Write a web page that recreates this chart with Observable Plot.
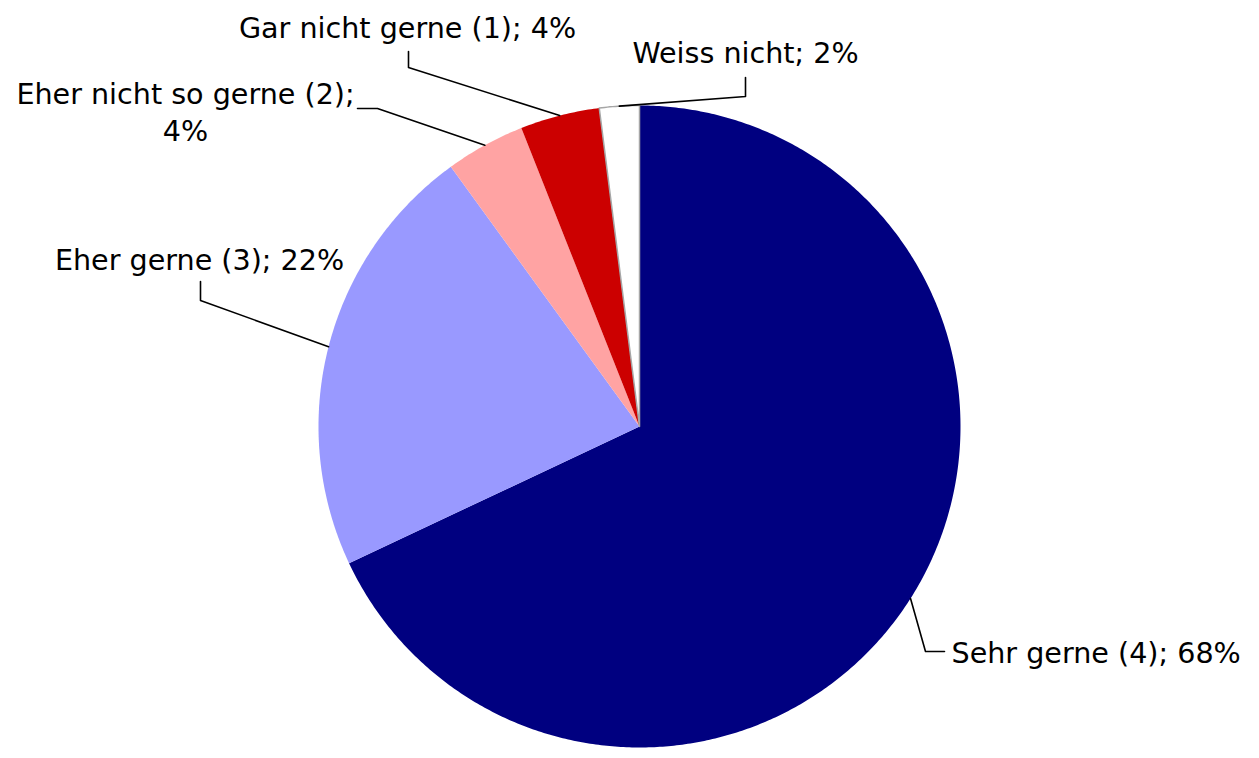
<!DOCTYPE html>
<html><head><meta charset="utf-8">
<script src="https://cdn.jsdelivr.net/npm/d3@7"></script>
<script src="https://cdn.jsdelivr.net/npm/@observablehq/plot@0.6"></script>
<style>body{margin:0;background:#fff;overflow:hidden}</style>
</head><body><div id="chart"></div>
<script>
// ---- data ----
const categories = ["Sehr gerne (4)", "Eher gerne (3)", "Eher nicht so gerne (2)", "Gar nicht gerne (1)", "Weiss nicht"];
const values = [68, 22, 4, 4, 2];
const colors = ["#000080", "#9999ff", "#ffa3a3", "#cc0000", "#ffffff"];

// ---- layout (pixels) ----
const W = 1259, H = 758, CX = 639, CY = 426, R = 321;
// label layout: elbow points, label anchor, alignment (pixel coordinates)
const labelLayout = [
  {elbow: [[925, 651], [944, 651]], at: [951, 650], anchor: "start"},
  {elbow: [[200, 300], [200, 281]], at: [199, 257], anchor: "middle"},
  {elbow: [[377, 108], [357, 108]], at: [185, 110], anchor: "middle", split: true},
  {elbow: [[408, 67], [408, 51]], at: [407, 25], anchor: "middle"},
  {elbow: [[745, 96], [745, 77]], at: [745, 50], anchor: "middle"}
];

const toU = ([px, py]) => [(px - CX) / R, (py - CY) / R];
const total = d3.sum(values);
let acc = 0;
const slices = categories.map((name, i) => {
  const a0 = acc / total * 2 * Math.PI;
  acc += values[i];
  const a1 = acc / total * 2 * Math.PI;
  const n = Math.max(2, Math.ceil((a1 - a0) / (Math.PI / 360)));
  const ring = [[0, 0]];
  for (let k = 0; k <= n; k++) {
    const a = a0 + (a1 - a0) * k / n;
    ring.push([Math.sin(a), -Math.cos(a)]);
  }
  ring.push([0, 0]);
  return {type: "Feature", properties: {name, value: values[i], mid: (a0 + a1) / 2},
          geometry: {type: "Polygon", coordinates: [ring]}};
});

const leaders = [];
const labels = [];
slices.forEach((s, i) => {
  const L = labelLayout[i];
  const m = s.properties.mid;
  leaders.push({id: i, x: Math.sin(m), y: -Math.cos(m)});
  L.elbow.forEach(p => { const [x, y] = toU(p); leaders.push({id: i, x, y}); });
  const [x, y] = toU(L.at);
  const text = L.split ? `${s.properties.name};\n${s.properties.value}%` : `${s.properties.name}; ${s.properties.value}%`;
  labels.push({x, y, text, anchor: L.anchor});
});

const x0 = -CX / R, x1 = (W - CX) / R, y0 = -CY / R, y1 = (H - CY) / R;
const domain = {type: "Polygon", coordinates: [[[x0, y0], [x1, y0], [x1, y1], [x0, y1], [x0, y0]]]};

const font = {fontFamily: "DejaVu Sans", fontSize: 28.6, fill: "#000", lineHeight: 1.32};
const chart = Plot.plot({
  width: W, height: H, margin: 0,
  projection: {type: "identity", domain},
  color: {domain: categories, range: colors},
  style: {background: "#fff", fontFamily: "DejaVu Sans"},
  marks: [
    Plot.geo(slices, {fill: d => d.properties.name}),
    Plot.geo(slices.filter(d => d.properties.name === "Weiss nicht"), {fill: "none", stroke: "#a6a6a6", strokeWidth: 1.5}),
    Plot.line(leaders, {x: "x", y: "y", z: "id", stroke: "#000", strokeWidth: 1.6, curve: "linear"}),
    Plot.text(labels.filter(d => d.anchor === "middle"), {x: "x", y: "y", text: "text", textAnchor: "middle", ...font}),
    Plot.text(labels.filter(d => d.anchor === "start"), {x: "x", y: "y", text: "text", textAnchor: "start", ...font})
  ]
});
document.getElementById("chart").appendChild(chart);
</script>
</body></html>
